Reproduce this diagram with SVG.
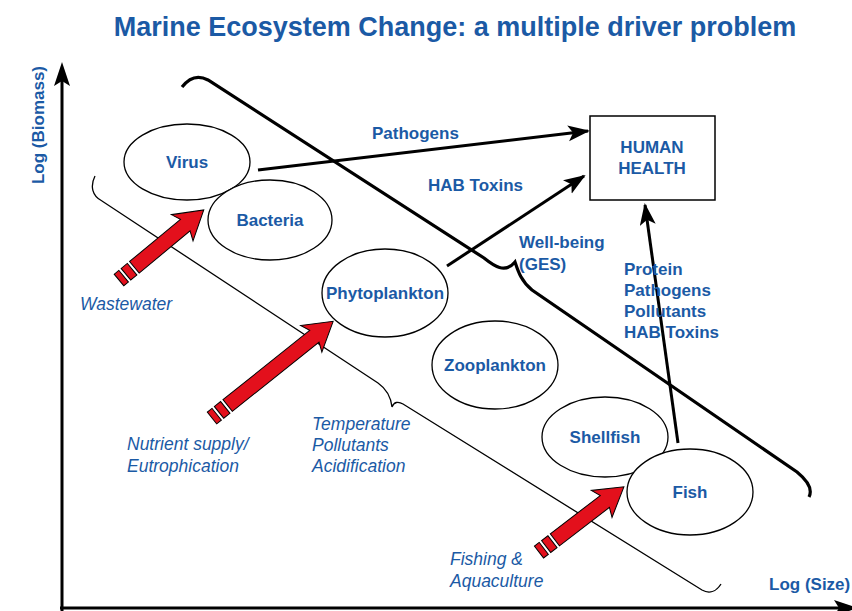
<svg xmlns="http://www.w3.org/2000/svg" width="852" height="611" viewBox="0 0 852 611">
<style>
.t{font-family:"Liberation Sans",Arial,sans-serif;fill:#1b5aa5}
.b{font-weight:bold;font-size:17px}
.i{font-style:italic;font-size:17.5px}
.node ellipse{fill:#fff;stroke:#000;stroke-width:1.3}
.red path{fill:#e3101c;stroke:#000;stroke-width:1}
.arr{stroke:#000;stroke-width:3;fill:none;marker-end:url(#ah)}
</style>
<defs>
<marker id="ah" markerUnits="userSpaceOnUse" markerWidth="24" markerHeight="18" refX="20" refY="8" orient="auto">
<path d="M0,0 L22,8 L0,16 L5,8 Z" fill="#000"/>
</marker>
</defs>
<rect width="852" height="611" fill="#fff"/>
<text class="t" x="455" y="36" text-anchor="middle" style="font-weight:bold;font-size:27px">Marine Ecosystem Change: a multiple driver problem</text>

<g id="axes">
<line x1="62" y1="611" x2="62" y2="80" stroke="#000" stroke-width="3"/>
<path d="M62,62 L70,86 L62,81 L54,86 Z" fill="#000"/>
<line x1="60" y1="608" x2="840" y2="608" stroke="#000" stroke-width="3"/>
<path d="M858,608 L834,600 L839,608 L834,616 Z" fill="#000"/>
<text class="t b" transform="translate(44,125) rotate(-90)" text-anchor="middle">Log (Biomass)</text>
<text class="t b" x="769" y="590">Log (Size)</text>
</g>

<g id="braces" fill="none" stroke="#000">
<path d="M95,176 C90,186 92,196 102,201 L378,383 C388,390 391,398 392,407 C394,402 398,401 403,404 L702,590 C709,594 716,592 721,584" stroke-width="1.3"/>
<path d="M182,87 C189,78 197,74 208,80 L484,258 C494,266 505,274 515,262 C518,271 521,281 532,290 L797,472 C808,481 813,489 809,497" stroke-width="3.2"/>
</g>

<g id="connectors">
<line class="arr" x1="258" y1="170" x2="588" y2="131"/>
<line class="arr" x1="447" y1="266" x2="584" y2="176"/>
<line class="arr" x1="678" y1="443" x2="645" y2="205"/>
</g>

<g id="labels">
<text class="t b" x="372" y="139">Pathogens</text>
<text class="t b" x="428" y="191">HAB Toxins</text>
<text class="t b" x="519" y="248">Well-being</text>
<text class="t b" x="519" y="270">(GES)</text>
<text class="t b" x="624" y="275">Protein</text>
<text class="t b" x="624" y="296">Pathogens</text>
<text class="t b" x="624" y="317">Pollutants</text>
<text class="t b" x="624" y="338">HAB Toxins</text>
<text class="t i" x="80" y="310">Wastewater</text>
<text class="t i" x="127" y="450">Nutrient supply/</text>
<text class="t i" x="127" y="472">Eutrophication</text>
<text class="t i" x="312" y="430">Temperature</text>
<text class="t i" x="312" y="451">Pollutants</text>
<text class="t i" x="312" y="472">Acidification</text>
<text class="t i" x="450" y="565">Fishing &amp;</text>
<text class="t i" x="450" y="587">Aquaculture</text>
</g>

<g id="virus" class="node"><ellipse cx="187" cy="162" rx="63" ry="38"/><text class="t b" x="187" y="168" text-anchor="middle">Virus</text></g>
<g id="bacteria" class="node"><ellipse cx="270" cy="220" rx="62" ry="40"/><text class="t b" x="270" y="226" text-anchor="middle">Bacteria</text></g>
<g id="phytoplankton" class="node"><ellipse cx="385" cy="293" rx="63" ry="44"/><text class="t b" x="385" y="299" text-anchor="middle">Phytoplankton</text></g>
<g id="zooplankton" class="node"><ellipse cx="495" cy="365" rx="63" ry="44"/><text class="t b" x="495" y="371" text-anchor="middle">Zooplankton</text></g>
<g id="shellfish" class="node"><ellipse cx="605" cy="437" rx="63" ry="40"/><text class="t b" x="605" y="443" text-anchor="middle">Shellfish</text></g>
<g id="fish" class="node"><ellipse cx="690" cy="492" rx="63" ry="43"/><text class="t b" x="690" y="498" text-anchor="middle">Fish</text></g>

<g id="human-health">
<rect x="590" y="116" width="125" height="84" fill="#fff" stroke="#000" stroke-width="1.5"/>
<text class="t b" x="652" y="153" text-anchor="middle">HUMAN</text>
<text class="t b" x="652" y="174" text-anchor="middle">HEALTH</text>
</g>

<g id="red-arrows" class="red">
<g transform="translate(119,280) rotate(-39.6)">
<path d="M0,-7.5 h6 v15 h-6 Z"/><path d="M9,-7.5 h8 v15 h-8 Z"/>
<path d="M20,-7.5 L86,-7.5 L82,-17 L110,0 L82,17 L86,7.5 L20,7.5 Z"/>
</g>
<g transform="translate(212,418) rotate(-38.6)">
<path d="M0,-7.5 h6 v15 h-6 Z"/><path d="M9,-7.5 h8 v15 h-8 Z"/>
<path d="M20,-7.5 L131,-7.5 L127,-17 L155,0 L127,17 L131,7.5 L20,7.5 Z"/>
</g>
<g transform="translate(539,552) rotate(-37.5)">
<path d="M0,-7.5 h6 v15 h-6 Z"/><path d="M9,-7.5 h8 v15 h-8 Z"/>
<path d="M20,-7.5 L83,-7.5 L79,-17 L107,0 L79,17 L83,7.5 L20,7.5 Z"/>
</g>
</g>
</svg>
